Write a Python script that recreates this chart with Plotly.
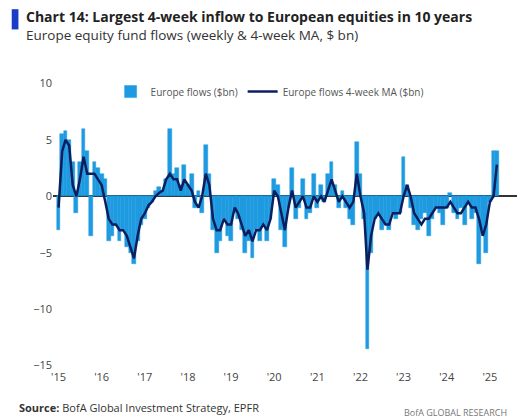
import pandas as pd
import plotly.graph_objects as go

months = pd.date_range("2015-01-01", "2025-03-01", freq="MS")

flows = [
    -3, 5.5, 5.8, 5, 3, -1.5, 3, 6, 4, -3.5, 3, 2.5,
    2, 1.5, -4, -3.5, -2.5, -4, -3, -4.5, -5, -6, -4, -2.5,
    -2, -1, -0.5, 0.5, 0.8, 0.5, 1.5, 6, 2, 2.5, 1, 2.8,
    1, 2, -1, 0.5, -1.5, 4.5, 2, -3, -5, -4, -2, -3.5,
    -4, -1.5, -2, -3, -5, -4, -5.5, -3, -4, -2.5, -4, -2,
    1.5, 1, -3, -4.5, -1, 2.5, -2, -1, 1.5, -2, -1.5, 2,
    -1, 1, -0.5, 2, 3, 1, -1, 0.5, -1, -2, -2.5, 4.8,
    2, -2, -13.5, -5, -2, -1.5, -3, -2.5, -3, -1.5, -2, -1.5,
    3.5, 1, -1, -2.5, -3, -2, -1.5, -3.5, -2, -1, -1.5, -2.5,
    -1, 0.3, -1.5, -2, -1, -2.5, -0.5, -2, -1.5, -6, -3, -5,
    -0.5, 4, 4,
]
ma = [
    -1, 4, 5, 4.5, 1, 0, 1.5, 3.5, 2, 2, 2, 1.5,
    1, -0.5, -2, -2.5, -2.5, -3, -3, -3.5, -4.5, -5.5, -3.5, -2,
    -1.5, -0.8, -0.5, 0, 0.3, 0.5, 1.5, 2, 1.5, 1.5, 0.5, 1.5,
    1, 0.5, -0.5, -1, 0, 2, 1, -2, -3, -3, -2, -2.5,
    -2.5, -1, -1.5, -2.5, -3.5, -3, -4, -3, -3, -2.5, -3, -2,
    0.5, 0, -1.5, -3, -1, 0.5, -1, -0.5, 0, -1, -1, 0,
    -0.5, 0, -0.5, 0.5, 1.5, 0.5, -0.5, 0, -0.5, -1, -0.5, 2,
    0, -1.5, -6.5, -3.5, -2, -1.5, -2, -2.5, -2.5, -1.5, -1.5, -1.5,
    0, 1, 0, -1.5, -2, -2.5, -2, -2, -1.5, -1, -1, -1,
    -1, -0.5, -1, -1.5, -1.5, -1, -0.5, -1, -1, -2, -3.5, -2.5,
    -0.5, 0, 2.8,
]
tick_vals = pd.date_range("2015-01-01", "2025-01-01", freq="YS")
tick_text = ["'" + str(d.year)[2:] for d in tick_vals]

fig = go.Figure()
fig.add_trace(go.Bar(x=months, y=flows, name="Europe flows ($bn)",
                     marker=dict(color="#1e9be0", line=dict(color="#1e9be0", width=0.5)),
                     width=32 * 24 * 3600 * 1000))
fig.add_trace(go.Scatter(x=months, y=ma, name="Europe flows 4-week MA ($bn)",
                         mode="lines", line=dict(color="#0b1f5e", width=2.5)))

fig.update_layout(
    width=525, height=419, margin=dict(l=45, r=0, t=72, b=58),
    paper_bgcolor="white", plot_bgcolor="white", bargap=0,
    font=dict(family="Open Sans, Arial, sans-serif", size=11, color="#444"),
    showlegend=True,
    legend=dict(orientation="h", x=0.12, y=1.01, xanchor="left", yanchor="top",
                font=dict(size=10, color="#555"), bgcolor="rgba(0,0,0,0)"),
    xaxis=dict(range=["2014-11-15", "2026-01-01"], tickvals=tick_vals, ticktext=tick_text,
               showgrid=False, zeroline=False, ticks="", showline=False),
    yaxis=dict(range=[-15.3, 10.3], tickvals=[-15, -10, -5, 0, 5, 10], showgrid=False,
               zeroline=True, zerolinecolor="#333", zerolinewidth=1.5, ticks=""),
)
fig.add_shape(type="rect", xref="paper", yref="paper", x0=-0.086, x1=-0.072, y0=1.175, y1=1.245,
              fillcolor="#1a3ec8", line_width=0)
fig.add_annotation(text="<b>Chart 14: Largest 4-week inflow to European equities in 10 years</b>",
                   xref="paper", yref="paper", x=-0.06, y=1.26, xanchor="left", yanchor="top",
                   showarrow=False, font=dict(size=14, color="#222"))
fig.add_annotation(text="Europe equity fund flows (weekly & 4-week MA, $ bn)",
                   xref="paper", yref="paper", x=-0.06, y=1.195, xanchor="left", yanchor="top",
                   showarrow=False, font=dict(size=13.5, color="#333"))
fig.add_annotation(text="<b>Source:</b> BofA Global Investment Strategy, EPFR",
                   xref="paper", yref="paper", x=-0.075, y=-0.1, xanchor="left", yanchor="top",
                   showarrow=False, font=dict(size=11, color="#333"))
fig.add_annotation(text="BofA GLOBAL RESEARCH", xref="paper", yref="paper", x=0.95, y=-0.12,
                   xanchor="right", yanchor="top", showarrow=False,
                   font=dict(size=9, color="#777"))
fig.write_html("out.html")
